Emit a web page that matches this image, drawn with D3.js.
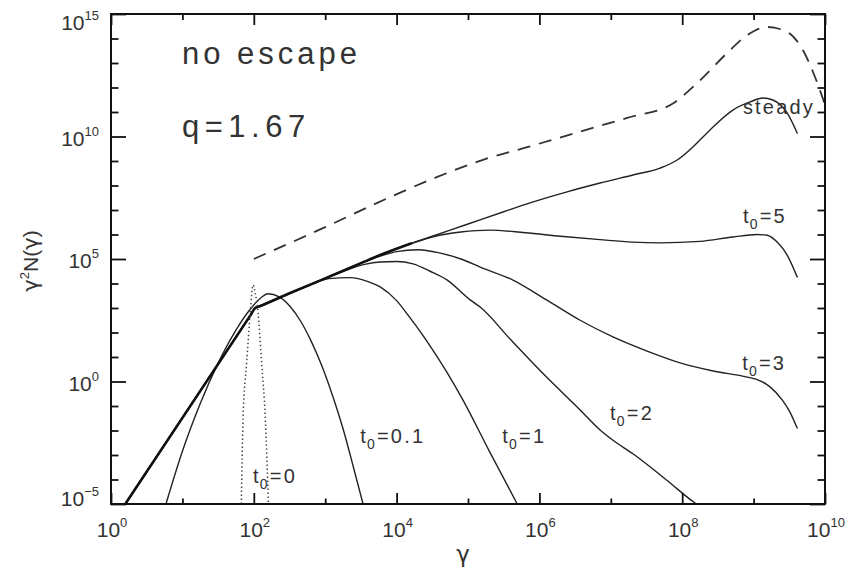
<!DOCTYPE html>
<html>
<head>
<meta charset="utf-8">
<script src="https://cdn.jsdelivr.net/npm/d3@7/dist/d3.min.js"></script>
<style>
  body { margin: 0; background: #fff; }
  svg { display: block; }
  text { font-family: "Liberation Sans", Arial, sans-serif; fill: #333; }
  .greek { font-family: "DejaVu Sans", sans-serif; }
</style>
</head>
<body>
<svg id="chart" width="850" height="576"></svg>
<script>
// All values are log10 exponents: [log10(gamma), log10(gamma^2 N)]
const xDecades = d3.range(0, 11);          // 10^0 .. 10^10
const yDecades = d3.range(-5, 16);         // 10^-5 .. 10^15
const xLabelExps = [0, 2, 4, 6, 8, 10];
const yLabelExps = [-5, 0, 5, 10, 15];

// common low-energy power law shared by the evolved spectra (sharp break at gamma = 100)
const trunk = [[0.2, -5], [1.95, 2.69], [2.02, 3.0], [2.08, 3.07], [2.5, 3.6], [3.0, 4.21],
  [3.5, 4.83], [3.77, 5.16], [4.2, 5.63]];

const steady = [[0.2, -5], [1.95, 2.69], [2.02, 3.0], [2.08, 3.07], [2.5, 3.6], [3.0, 4.21],
  [3.5, 4.83], [3.77, 5.16], [4.2, 5.63],
  [4.5, 5.93], [5.0, 6.43], [5.5, 6.93], [5.87, 7.29], [6.4, 7.75], [6.85, 8.1], [7.31, 8.43],
  [7.69, 8.71], [7.93, 9.04], [8.15, 9.57], [8.39, 10.27], [8.71, 11.08], [8.95, 11.41],
  [9.13, 11.57], [9.27, 11.49], [9.47, 10.96], [9.61, 10.14]];

const t5 = [[0.2, -5], [1.95, 2.69], [2.02, 3.0], [2.08, 3.07], [2.5, 3.6], [3.0, 4.21],
  [3.5, 4.83], [3.77, 5.16], [4.2, 5.63],
  [4.5, 5.9], [4.9, 6.1], [5.31, 6.18], [5.8, 6.07], [6.3, 5.93], [6.85, 5.79], [7.3, 5.69],
  [7.69, 5.66], [8.25, 5.72], [8.71, 5.9], [9.05, 6.0], [9.19, 5.97], [9.33, 5.69],
  [9.47, 5.16], [9.61, 4.27]];

const t3 = [[0.2, -5], [1.95, 2.69], [2.02, 3.0], [2.08, 3.07], [2.5, 3.6], [3.0, 4.21],
  [3.5, 4.83], [3.77, 5.12], [4.0, 5.3],
  [4.3, 5.38], [4.6, 5.25], [4.9, 5.0], [5.17, 4.67], [5.63, 4.14], [6.1, 3.33], [6.57, 2.5],
  [7.03, 1.82], [7.5, 1.25], [7.97, 0.76], [8.45, 0.42], [8.91, 0.18], [9.1, 0.02],
  [9.23, -0.22], [9.4, -0.75], [9.5, -1.2], [9.61, -1.9]];

const t2 = [[0.2, -5], [1.95, 2.69], [2.02, 3.0], [2.08, 3.07], [2.5, 3.6], [3.0, 4.21],
  [3.3, 4.55], [3.55, 4.78], [3.77, 4.88],
  [4.0, 4.9], [4.23, 4.8], [4.47, 4.5], [4.71, 4.14], [5.03, 3.33], [5.17, 3.04], [5.6, 1.7],
  [6.1, 0.18], [6.57, -1.16], [6.85, -1.98], [7.03, -2.4], [7.31, -2.95], [7.78, -4.02],
  [8.18, -4.96], [8.2, -5]];

const t1 = [[0.2, -5], [1.95, 2.69], [2.02, 3.0], [2.08, 3.07], [2.5, 3.6], [2.8, 3.95],
  [3.05, 4.2], [3.35, 4.24], [3.6, 4.08],
  [3.77, 3.86], [4.0, 3.3], [4.15, 2.75], [4.4, 1.75], [4.71, 0.35], [4.93, -0.76],
  [5.3, -2.85], [5.69, -5]];

const t01 = [[0.77, -5], [1.0, -2.85], [1.25, -0.9], [1.5, 0.75], [1.75, 2.1], [1.95, 2.95],
  [2.1, 3.42], [2.2, 3.58], [2.35, 3.46], [2.5, 3.09], [2.65, 2.49], [2.8, 1.67], [2.95, 0.66],
  [3.1, -0.55], [3.25, -1.93], [3.4, -3.55], [3.53, -5]];

const t0 = [[1.825, -5], [1.85, -1.45], [1.9, 0.76], [1.95, 2.8], [1.99, 3.94], [2.02, 3.61],
  [2.06, 2.8], [2.11, 0.76], [2.16, -1.45], [2.205, -5]];

const noEscape = [[2.0, 5.0], [3.0, 6.3], [3.91, 7.53], [4.57, 8.35], [5.21, 9.05], [5.87, 9.6],
  [6.57, 10.2], [7.23, 10.76], [7.87, 11.35], [8.21, 12.18], [8.63, 13.41], [8.91, 14.14],
  [9.19, 14.47], [9.47, 14.27], [9.69, 13.53], [9.86, 12.43], [10.0, 11.3]];

// curve labels, anchored in log10 coordinates
const curveLabels = [
  { pre: "t", sub: "0", post: "=0",   lx: 1.99, ly: -4.14 },
  { pre: "t", sub: "0", post: "=0.1", lx: 3.49, ly: -2.51 },
  { pre: "t", sub: "0", post: "=1",   lx: 5.48, ly: -2.51 },
  { pre: "t", sub: "0", post: "=2",   lx: 6.99, ly: -1.57 },
  { pre: "t", sub: "0", post: "=3",   lx: 8.84, ly: 0.47 },
  { pre: "t", sub: "0", post: "=5",   lx: 8.85, ly: 6.47 },
  { pre: "steady", sub: "", post: "", lx: 8.85, ly: 10.9 }
];

const M = { left: 111, right: 825, top: 14, bottom: 504 };

const x = d3.scaleLog().domain([1, 1e10]).range([M.left, M.right]);
const y = d3.scaleLog().domain([1e-5, 1e15]).range([M.bottom, M.top]);
const px = e => x(Math.pow(10, e));
const py = e => y(Math.pow(10, e));

const svg = d3.select("#chart");

svg.append("clipPath").attr("id", "plot-clip")
  .append("rect")
  .attr("x", M.left).attr("y", M.top)
  .attr("width", M.right - M.left).attr("height", M.bottom - M.top);

const line = d3.line()
  .x(d => px(d[0]))
  .y(d => py(d[1]))
  .curve(d3.curveMonotoneX);

const curves = svg.append("g").attr("clip-path", "url(#plot-clip)")
  .attr("fill", "none").attr("stroke-linejoin", "round").attr("stroke-linecap", "round");

[steady, t5, t3, t2, t1, t01].forEach(s => {
  curves.append("path").attr("d", line(s))
    .attr("stroke", "#222").attr("stroke-width", 1.4);
});

curves.append("path").attr("d", line(trunk))
  .attr("stroke", "#111").attr("stroke-width", 2.6);

curves.append("path").attr("d", line(t0))
  .attr("stroke", "#444").attr("stroke-width", 1.5)
  .attr("stroke-linecap", "butt")
  .attr("stroke-dasharray", "1.4,2.6");

curves.append("path").attr("d", line(noEscape))
  .attr("stroke", "#333").attr("stroke-width", 1.8)
  .attr("stroke-linecap", "butt")
  .attr("stroke-dasharray", "13,9");

// axes: ticks point inward on all four sides
const isMajorX = e => e % 2 === 0;
const isMajorY = e => e % 5 === 0;
const axes = svg.append("g");

function drawAxis(gen, values, size, transform) {
  const g = axes.append("g").attr("transform", transform)
    .call(gen.tickValues(values.map(e => Math.pow(10, e))).tickSize(-size).tickFormat(""));
  g.select(".domain").remove();
  g.selectAll(".tick line").attr("stroke", "#111").attr("stroke-width", 1.8);
}

drawAxis(d3.axisBottom(x), xDecades.filter(isMajorX), 11, `translate(0,${M.bottom})`);
drawAxis(d3.axisBottom(x), xDecades.filter(e => !isMajorX(e)), 5.5, `translate(0,${M.bottom})`);
drawAxis(d3.axisTop(x), xDecades.filter(isMajorX), 11, `translate(0,${M.top})`);
drawAxis(d3.axisTop(x), xDecades.filter(e => !isMajorX(e)), 6, `translate(0,${M.top})`);
drawAxis(d3.axisLeft(y), yDecades.filter(isMajorY), 15, `translate(${M.left},0)`);
drawAxis(d3.axisLeft(y), yDecades.filter(e => !isMajorY(e)), 7.5, `translate(${M.left},0)`);
drawAxis(d3.axisRight(y), yDecades.filter(isMajorY), 15, `translate(${M.right},0)`);
drawAxis(d3.axisRight(y), yDecades.filter(e => !isMajorY(e)), 7.5, `translate(${M.right},0)`);

axes.append("rect")
  .attr("x", M.left).attr("y", M.top)
  .attr("width", M.right - M.left).attr("height", M.bottom - M.top)
  .attr("fill", "none").attr("stroke", "#111").attr("stroke-width", 2);

// tick labels as 10 with superscript exponent
function powerLabel(sel, e) {
  sel.append("tspan").text("10");
  sel.append("tspan").attr("font-size", 13).attr("dy", -10).text(e < 0 ? "\u2212" + (-e) : String(e));
}

xLabelExps.forEach(e => {
  const t = svg.append("text")
    .attr("x", px(e) + 1).attr("y", 537)
    .attr("text-anchor", "middle").attr("font-size", 21);
  powerLabel(t, e);
});

yLabelExps.forEach(e => {
  const base = Math.min(Math.max(py(e) + 9, 30), 506);
  const t = svg.append("text")
    .attr("x", 99).attr("y", base)
    .attr("text-anchor", "end").attr("font-size", 21);
  powerLabel(t, e);
});

// axis titles
svg.append("text").attr("class", "greek")
  .attr("x", 463).attr("y", 562)
  .attr("text-anchor", "middle").attr("font-size", 23)
  .text("\u03b3");

const yt = svg.append("text")
  .attr("transform", "translate(38,261) rotate(-90)")
  .attr("text-anchor", "middle").attr("font-size", 21);
yt.append("tspan").attr("class", "greek").text("\u03b3");
yt.append("tspan").attr("font-size", 13).attr("dy", -9).text("2");
yt.append("tspan").attr("dy", 9).text("N(");
yt.append("tspan").attr("class", "greek").text("\u03b3");
yt.append("tspan").text(")");

// annotations
svg.append("text").attr("x", 182).attr("y", 64)
  .attr("font-size", 31).attr("letter-spacing", 4).text("no escape");
svg.append("text").attr("x", 182).attr("y", 137)
  .attr("font-size", 31).attr("letter-spacing", 5.5).text("q=1.67");

curveLabels.forEach(d => {
  const t = svg.append("text")
    .attr("x", px(d.lx)).attr("y", py(d.ly))
    .attr("font-size", 20).attr("letter-spacing", 2.2);
  t.append("tspan").text(d.pre);
  if (d.sub) {
    t.append("tspan").attr("font-size", 14).attr("dy", 6).attr("dx", -1).text(d.sub);
    t.append("tspan").attr("dy", -6).text(d.post);
  }
});
</script>
</body>
</html>
